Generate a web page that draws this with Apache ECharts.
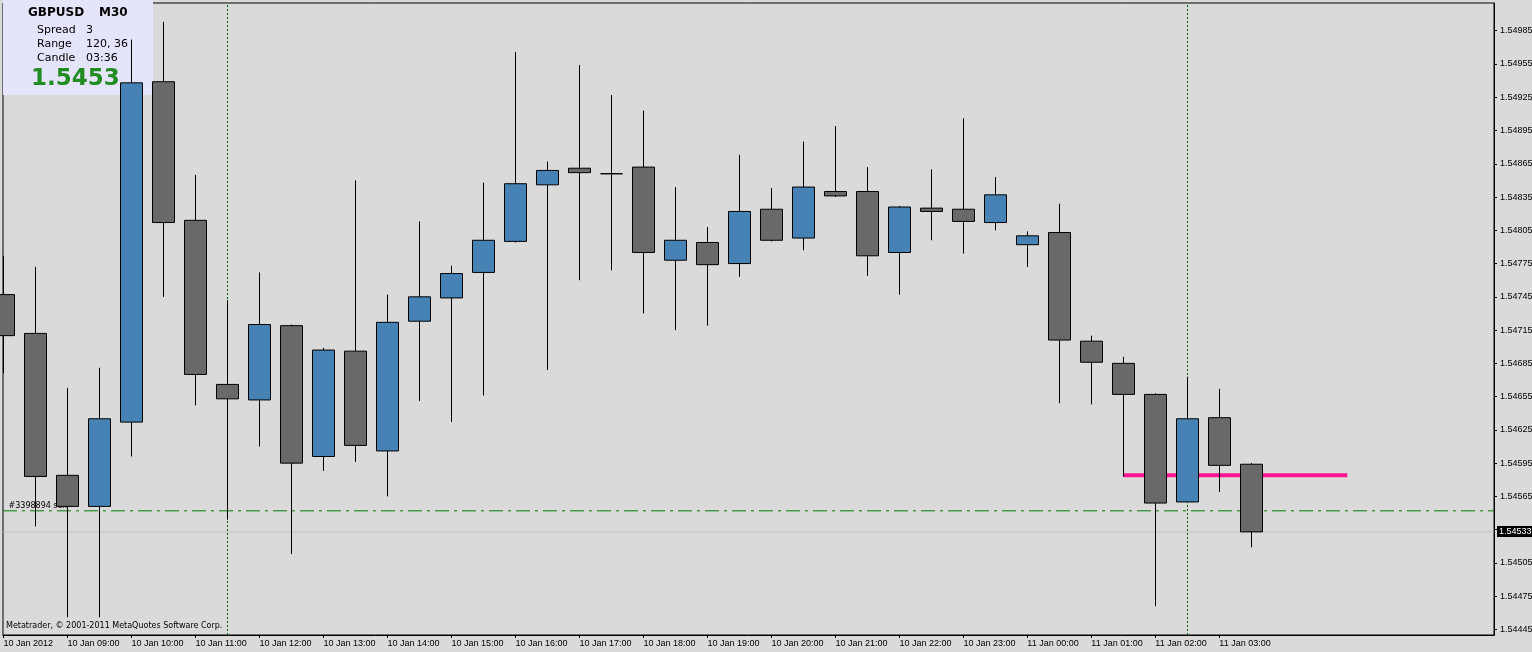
<!DOCTYPE html>
<html><head><meta charset="utf-8">
<script src="https://cdn.jsdelivr.net/npm/echarts@6/dist/echarts.min.js"></script>
<style>html,body{margin:0;padding:0;background:#DADADA;overflow:hidden}#c{width:1532px;height:652px}</style>
</head><body><div id="c"></div>
<script>
// ---- data ----
const candleTimes = [
 '10 Jan 08:00','10 Jan 08:30','10 Jan 09:00','10 Jan 09:30','10 Jan 10:00','10 Jan 10:30','10 Jan 11:00','10 Jan 11:30',
 '10 Jan 12:00','10 Jan 12:30','10 Jan 13:00','10 Jan 13:30','10 Jan 14:00','10 Jan 14:30','10 Jan 15:00','10 Jan 15:30',
 '10 Jan 16:00','10 Jan 16:30','10 Jan 17:00','10 Jan 17:30','10 Jan 18:00','10 Jan 18:30','10 Jan 19:00','10 Jan 19:30',
 '10 Jan 20:00','10 Jan 20:30','10 Jan 21:00','10 Jan 21:30','10 Jan 22:00','10 Jan 22:30','10 Jan 23:00','10 Jan 23:30',
 '11 Jan 00:00','11 Jan 00:30','11 Jan 01:00','11 Jan 01:30','11 Jan 02:00','11 Jan 02:30','11 Jan 03:00','11 Jan 03:30'];
const xTickLabels = ['10 Jan 2012','10 Jan 09:00','10 Jan 10:00','10 Jan 11:00','10 Jan 12:00','10 Jan 13:00','10 Jan 14:00',
 '10 Jan 15:00','10 Jan 16:00','10 Jan 17:00','10 Jan 18:00','10 Jan 19:00','10 Jan 20:00','10 Jan 21:00','10 Jan 22:00',
 '10 Jan 23:00','11 Jan 00:00','11 Jan 01:00','11 Jan 02:00','11 Jan 03:00'];
const openPrices  = [1.54747,1.54712,1.54584,1.54556,1.54632,1.54939,1.54814,1.54666,1.54652,1.54719,1.54601,1.54696,1.54606,1.54723,1.54744,1.54767,1.54795,1.54846,1.54861,1.54856,1.54862,1.54778,1.54794,1.54775,1.54824,1.54798,1.54840,1.54840,1.54785,1.54825,1.54824,1.54812,1.54792,1.54803,1.54705,1.54685,1.54657,1.54560,1.54636,1.54594];
const closePrices = [1.54710,1.54583,1.54556,1.54635,1.54938,1.54812,1.54675,1.54653,1.54720,1.54595,1.54697,1.54611,1.54722,1.54745,1.54766,1.54796,1.54847,1.54859,1.54857,1.54856,1.54785,1.54796,1.54774,1.54822,1.54796,1.54844,1.54836,1.54782,1.54826,1.54822,1.54813,1.54837,1.54800,1.54706,1.54686,1.54657,1.54559,1.54635,1.54593,1.54533];
const highPrices  = [1.54782,1.54772,1.54663,1.54681,1.54977,1.54993,1.54855,1.54742,1.54767,1.54720,1.54699,1.54850,1.54747,1.54813,1.54773,1.54848,1.54966,1.54867,1.54954,1.54927,1.54913,1.54844,1.54808,1.54873,1.54843,1.54885,1.54899,1.54862,1.54827,1.54860,1.54906,1.54853,1.54804,1.54829,1.54710,1.54691,1.54658,1.54673,1.54662,1.54595];
const lowPrices   = [1.54676,1.54538,1.54456,1.54456,1.54601,1.54745,1.54647,1.54544,1.54610,1.54513,1.54588,1.54596,1.54565,1.54651,1.54632,1.54656,1.54794,1.54679,1.54760,1.54769,1.54730,1.54715,1.54719,1.54763,1.54795,1.54787,1.54835,1.54764,1.54747,1.54796,1.54784,1.54805,1.54772,1.54649,1.54648,1.54583,1.54466,1.54560,1.54569,1.54519];
const yTicks = [1.54445,1.54475,1.54505,1.54535,1.54565,1.54595,1.54625,1.54655,1.54685,1.54715,1.54745,1.54775,1.54805,1.54835,1.54865,1.54895,1.54925,1.54955,1.54985];
const yTickShown = [1.54445,1.54475,1.54505,1.54565,1.54595,1.54625,1.54655,1.54685,1.54715,1.54745,1.54775,1.54805,1.54835,1.54865,1.54895,1.54925,1.54955,1.54985];
const bidPrice = 1.54533;
const orderPrice = 1.54552;
const orderLabel = '#3398894 sell';
const levelPrice = 1.54584;
const levelRange = [35, 42];
const separatorIdx = [7, 37];
const infoSymbol = 'GBPUSD', infoPeriod = 'M30';
const infoRows = [['Spread','3'],['Range','120, 36'],['Candle','03:36']];
const infoPrice = '1.5453';
const copyright = 'Metatrader, \u00A9 2001-2011 MetaQuotes Software Corp.';

// ---- chart ----
const X_MIN = -0.0156, X_MAX = 46.584;
const candleData = openPrices.map((o,i)=>[i, o, closePrices[i], lowPrices[i], highPrices[i]]);
const xTickIdx = xTickLabels.map((_,k)=>k*2);
const chart = echarts.init(document.getElementById('c'), null, {renderer:'canvas'});
const font = 'Liberation Sans';
function hLine(name, price, style, z){
  return {type:'line', name, z, symbol:'none', silent:true, showSymbol:false,
    data:[[X_MIN, price],[X_MAX, price]], lineStyle:style};
}
chart.setOption({
  animation:false,
  backgroundColor:'#DADADA',
  grid:{left:3, top:3, right:38, bottom:17, show:true, borderColor:'#000', borderWidth:1, backgroundColor:'transparent',
    containLabel:false, outerBoundsMode:'none'},
  xAxis:{type:'value', min:X_MIN, max:X_MAX, position:'bottom',
    axisLine:{show:true, onZero:false, lineStyle:{color:'#000', width:1}},
    axisTick:{show:true, length:3, customValues:xTickIdx, lineStyle:{color:'#000'}},
    axisLabel:{customValues:xTickIdx, formatter:v=>xTickLabels[Math.round(v/2)], align:'left', margin:4,
      color:'#000', fontFamily:font, fontSize:9},
    splitLine:{show:false}},
  yAxis:{type:'value', position:'right', min:1.5444, max:1.5501, scale:true,
    axisLine:{show:true, onZero:false, lineStyle:{color:'#000', width:1}},
    axisTick:{show:true, length:3, customValues:yTicks, lineStyle:{color:'#000'}},
    axisLabel:{customValues:yTickShown, formatter:v=>v.toFixed(5), color:'#000', fontFamily:font, fontSize:9, margin:6},
    splitLine:{show:false}},
  graphic:[
    {type:'rect', z:1, shape:{x:3, y:0, width:150, height:95}, style:{fill:'#E4E4FA'}, silent:true},
    {type:'text', z:10, x:28, y:13, style:{text:infoSymbol, fontFamily:'DejaVu Sans', fontWeight:'bold', fontSize:12, fill:'#000', verticalAlign:'middle'}},
    {type:'text', z:10, x:99, y:13, style:{text:infoPeriod, fontFamily:'DejaVu Sans', fontWeight:'bold', fontSize:12, fill:'#000', verticalAlign:'middle'}},
    ...infoRows.flatMap((r,k)=>[
      {type:'text', z:10, x:37, y:30.5+k*14, style:{text:r[0], fontFamily:'DejaVu Sans', fontSize:11, fill:'#000', verticalAlign:'middle'}},
      {type:'text', z:10, x:86, y:30.5+k*14, style:{text:r[1], fontFamily:'DejaVu Sans', fontSize:11, fill:'#000', verticalAlign:'middle'}}
    ]),
    {type:'text', z:10, x:31, y:79, style:{text:infoPrice, fontFamily:'DejaVu Sans', fontWeight:'bold', fontSize:23, fill:'#228B22', verticalAlign:'middle'}},
    {type:'text', z:10, x:6, y:626, style:{text:copyright, fontFamily:'DejaVu Sans', fontSize:8, fill:'#000', verticalAlign:'middle'}}
  ],
  series:[
    hLine('bid', bidPrice, {color:'#C0C0C0', width:1, type:'solid'}, 1),
    hLine('order', orderPrice, {color:'#008000', width:1, type:[14,5,3,5]}, 1),
    {type:'line', name:'level', z:1, symbol:'none', silent:true,
      data:levelRange.map(i=>[i, levelPrice]),
      lineStyle:{color:'#FF1493', width:4},
      markLine:{silent:true, z:1, symbol:['none','none'], animation:false,
        data:separatorIdx.map(i=>({xAxis:i, lineStyle:{color:'#006400', width:1, type:[2,2]}, label:{show:false}}))}},
    {type:'custom', name:'orderLabel', z:1, silent:true,
      data:[[0, orderPrice]],
      renderItem:(params, api)=>{
        const p = api.coord([api.value(0), api.value(1)]);
        return {type:'text', style:{x:p[0]+5, y:p[1]-1, text:orderLabel, fill:'#000', fontFamily:'DejaVu Sans', fontSize:8, verticalAlign:'bottom'}};
      }},
    {type:'candlestick', name:'GBPUSD', z:3, barWidth:23,
      dimensions:['idx','open','close','lowest','highest'],
      encode:{x:0, y:[1,2,3,4]},
      data:candleData,
      itemStyle:{color:'#4682B4', color0:'#696969', borderColor:'#000', borderColor0:'#000', borderColorDoji:'#000', borderWidth:1}},
    {type:'custom', name:'bidLabel', z:5, clip:false, silent:true,
      data:[[X_MAX, bidPrice]],
      renderItem:(params, api)=>{
        const p = api.coord([api.value(0), api.value(1)]);
        return {type:'group', children:[
          {type:'rect', shape:{x:p[0]+3, y:p[1]-6, width:40, height:11}, style:{fill:'#000'}},
          {type:'text', style:{x:p[0]+5, y:p[1], text:api.value(1).toFixed(5), fill:'#fff', fontFamily:font, fontSize:9, verticalAlign:'middle'}}
        ]};
      }}
  ]
});
</script></body></html>
